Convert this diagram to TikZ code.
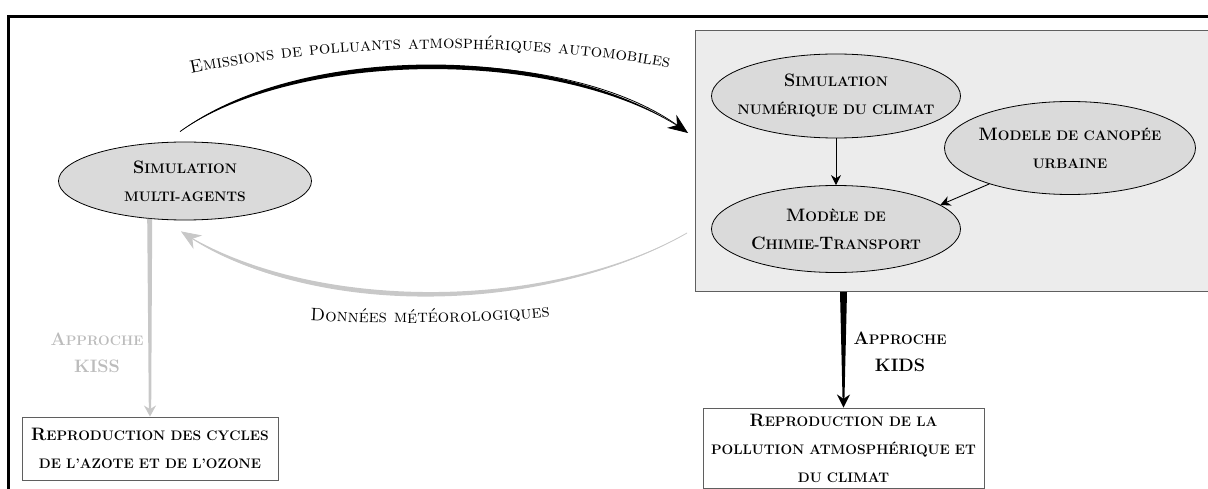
\documentclass[tikz,border=0pt]{standalone}
\usepackage{fontspec}
\usetikzlibrary{arrows.meta,positioning,calc,shapes.geometric,decorations.text}

\definecolor{fondgris}{RGB}{236,236,236}
\definecolor{ellgris}{RGB}{218,218,218}
\definecolor{flechegris}{RGB}{200,200,200}
\definecolor{textegris}{RGB}{188,188,188}
\definecolor{bordgris}{RGB}{95,95,95}

% petites capitales grasses (initiale + reste en majuscules reduites)
\newcommand{\scb}[2]{{\bfseries #1{\fontsize{13.8}{28}\selectfont\MakeUppercase{#2}}}}
\newcommand{\etiqfont}{\fontsize{18}{21}\selectfont\scshape}

\begin{document}
\begin{tikzpicture}[x=1pt,y=-1pt,
  modele/.style={ellipse,draw,fill=ellgris,line width=0.8pt,align=center,
    inner xsep=-30pt,inner ysep=0pt,minimum width=249pt,minimum height=84pt,
    font=\fontsize{18}{28}\selectfont},
  sortie/.style={draw=bordgris,fill=white,line width=0.9pt,align=center,
    inner sep=2pt,font=\fontsize{18}{28}\selectfont},
  etiq/.style={align=center,inner sep=0pt,font=\fontsize{18}{27}\selectfont},
  fine/.style={-{Stealth[length=10pt,width=10pt]},line width=0.9pt}]
  \useasboundingbox (0,0) rectangle (1208,489);
  \draw[line width=2.2pt] (8.5,16.5) rectangle (1240,520);
  \node[draw=bordgris,fill=fondgris,line width=0.9pt,anchor=north west,
    minimum width=560pt,minimum height=261pt] (cadre) at (695,30) {};

  \node[modele,minimum width=253pt,minimum height=78pt] (sma) at (185,181)
    {\scb{S}{imulation}\\\scb{}{multi-agents}};
  \node[modele] (snc) at (836,96) {\scb{S}{imulation}\\\scb{}{numérique du climat}};
  \node[modele,minimum width=251pt,minimum height=93pt] (mcu) at (1070,148)
    {\scb{M}{odele de canopée}\\\scb{}{urbaine}};
  \node[modele,minimum height=87pt] (mct) at (836,229)
    {\scb{M}{odèle de}\\\scb{C}{himie-}\scb{T}{ransport}};

  \node[sortie,minimum width=256pt,minimum height=63pt] (rkiss) at (150,448.5)
    {\scb{R}{eproduction des cycles}\\\scb{}{de l’azote et de l’ozone}};
  \node[sortie,minimum width=281pt,minimum height=80pt] (rkids) at (843.5,448)
    {\scb{R}{eproduction de la}\\\scb{}{pollution atmosphérique et}\\\scb{}{du climat}};

  \draw[fine] (snc) -- (mct);
  \draw[fine] (mcu.204) -- (mct.13);

  % emissions : fleche noire effilee
  \coordinate (e0) at ($(sma.north)+(-5,-10)$);
  \coordinate (e1) at ($(cadre.north west)+(-7,103)$);
  \fill (e0) .. controls (300,41.5) and (565,42.5) .. (e1)
    .. controls (565,47.5) and (300,48.5) .. (e0) -- cycle;
  \draw[line width=0.8pt,-{Stealth[length=20pt,width=16pt]}]
    (e0) .. controls (300,45) and (565,45) .. (e1);
  \path[decorate,decoration={text along path,text align=center,
    text={|\etiqfont|Emissions de polluants atmosphériques automobiles}}]
    (180,76) .. controls (330,42) and (530,40) .. (680,70);

  % donnees meteo : fleche grise effilee
  \coordinate (g0) at ($(cadre.north west)+(-8,203)$);
  \coordinate (g1) at ($(sma.south)+(-4,11)$);
  \fill[flechegris] (g0) .. controls (545,312) and (310,312) .. (g1)
    .. controls (310,321) and (545,315) .. (g0) -- cycle;
  \draw[flechegris,line width=0.8pt,-{Stealth[length=20pt,width=16pt]}]
    (g0) .. controls (545,314.5) and (310,314.5) .. (g1);
  \path[decorate,decoration={text along path,text align=center,
    text={|\etiqfont|Données météorologiques}}]
    (285,319) .. controls (380,325) and (480,325) .. (575,314);

  % approches
  \coordinate (k0) at (sma.227);
  \fill[flechegris] ($(k0)+(-2.5,0)$) -- ($(k0)+(2.5,0)$)
    -- ($(rkiss.north)+(1.2,-8)$) -- ($(rkiss.north)+(-1.2,-8)$) -- cycle;
  \draw[flechegris,line width=1.5pt,-{Stealth[length=11pt,width=12pt]}] (k0) -- (rkiss.north);
  \coordinate (d0) at (rkids.north |- cadre.south);
  \fill ($(d0)+(-3.5,0)$) -- ($(d0)+(3.5,0)$)
    -- ($(rkids.north)+(1,-10)$) -- ($(rkids.north)+(-1,-10)$) -- cycle;
  \draw[line width=1.5pt,-{Stealth[length=13pt,width=13pt]}] (d0) -- (rkids.north);

  \node[etiq,text=textegris] (lkiss) at (97,353) {\scb{A}{pproche}\\{\bfseries KISS}};
  \node[etiq] (lkids) at (900,352) {\scb{A}{pproche}\\{\bfseries KIDS}};
\end{tikzpicture}
\end{document}
